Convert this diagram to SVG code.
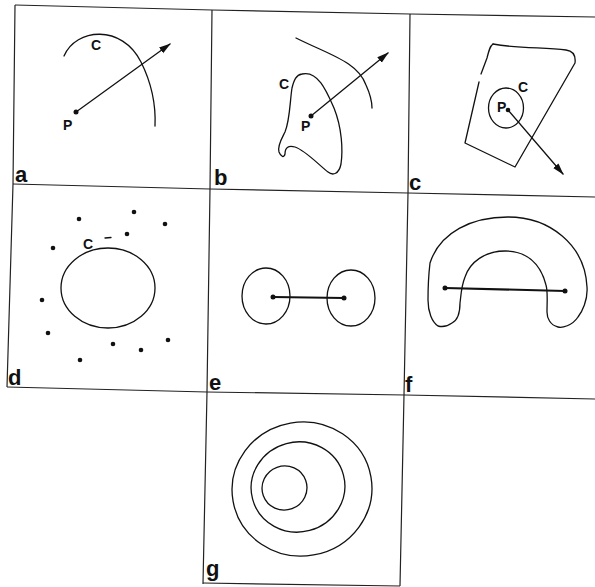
<svg xmlns="http://www.w3.org/2000/svg" width="595" height="587" viewBox="0 0 595 587">
<style>
.ln{fill:none;stroke:#111;stroke-width:1.3;stroke-linejoin:round;stroke-linecap:round}
.fr{fill:none;stroke:#222;stroke-width:1.2}
.dot{fill:#111}
.lab{font-family:"Liberation Sans",Arial,sans-serif;font-weight:bold;font-size:22px;fill:#111}
.sm{font-family:"Liberation Sans",Arial,sans-serif;font-weight:bold;font-size:14px;fill:#111}
</style>
<defs>
<marker id="ah" markerUnits="userSpaceOnUse" markerWidth="12" markerHeight="8" refX="11" refY="4" orient="auto">
<path d="M0,0.5 L12,4 L0,7.5 z" fill="#111"/>
</marker>
</defs>
<rect width="595" height="587" fill="#fff"/>
<g id="grid" class="fr">
<path d="M15,5 L212,10 L410,14 L595,17"/>
<path d="M13,184 L210,189 L408,193 L595,197"/>
<path d="M7,387 L207,392 L405,395 L595,399"/>
<path d="M15,5 L13,184 L7,387"/>
<path d="M212,10 L210,189 L207,392 L203,584"/>
<path d="M410,14 L408,193 L404,395 L400,586"/>
<path d="M203,583 L400,586"/>
</g>
<g id="panel-a">
<path class="ln" d="M64,56 C76,28 122,24 141,62 C151,82 156,104 155,126"/>
<text class="sm" x="91" y="50">C</text>
<circle class="dot" cx="76" cy="112" r="2.5"/>
<text class="sm" x="63" y="130">P</text>
<text class="lab" x="15" y="182">a</text>
</g>
<g id="panel-b">
<path class="ln" d="M296,38 C330,55 358,62 366,85 C371,96 372,102 372,108"/>
<path class="ln" d="M302,74 C318,70 327,92 334,108 C342,128 343,150 341,164 C339,174 333,176 328,172 C320,166 305,150 295,147 C288,145 285,148 285,154 C284,158 281,157 279,152 C277,146 282,138 285,132 C290,120 290,100 292,88 C294,80 296,75 302,74 Z"/>
<text class="sm" x="279" y="89">C</text>
<circle class="dot" cx="311" cy="116" r="2.5"/>
<text class="sm" x="301" y="131">P</text>
<text class="lab" x="214" y="185">b</text>
</g>
<g id="panel-c">
<path class="ln" d="M493,44 C520,49 545,47 566,50 C573,51 576,55 575,63 L515,167 L465,143 L479,82"/>
<path class="ln" d="M481,74 L487,58 C489,50 490,46 493,44"/>
<ellipse class="ln" cx="506" cy="108" rx="17.5" ry="20"/>
<text class="sm" x="518" y="92">C</text>
<text class="sm" x="497" y="112">P</text>
<circle class="dot" cx="508" cy="110" r="2.3"/>
<text class="lab" x="409" y="190">c</text>
</g>
<g id="panel-d">
<ellipse class="ln" cx="108" cy="288" rx="47" ry="40"/>
<text class="sm" x="83" y="249">C</text>
<path class="ln" d="M105,238 L111,237.5" stroke-width="2"/>
<circle class="dot" cx="79" cy="219" r="2.3"/>
<circle class="dot" cx="134" cy="212" r="2.3"/>
<circle class="dot" cx="165" cy="224" r="2.3"/>
<circle class="dot" cx="127" cy="234" r="2.3"/>
<circle class="dot" cx="53" cy="248" r="2.3"/>
<circle class="dot" cx="42" cy="300" r="2.3"/>
<circle class="dot" cx="48" cy="333" r="2.3"/>
<circle class="dot" cx="113" cy="344" r="2.3"/>
<circle class="dot" cx="141" cy="350" r="2.3"/>
<circle class="dot" cx="168" cy="340" r="2.3"/>
<circle class="dot" cx="80" cy="360" r="2.3"/>
<text class="lab" x="8" y="385">d</text>
</g>
<g id="panel-e">
<ellipse class="ln" cx="266" cy="296" rx="24" ry="28"/>
<ellipse class="ln" cx="351" cy="298" rx="24" ry="28"/>
<circle class="dot" cx="273" cy="297" r="2.5"/>
<circle class="dot" cx="344" cy="298" r="2.5"/>
<text class="lab" x="209" y="390">e</text>
</g>
<g id="panel-f">
<path class="ln" d="M438,326 C432,322 428,312 428,300 C428,290 428,280 430,263 C440,232 472,217 508,217 C550,217 585,245 587,287 C588,300 582,312 578,317 C572,326 562,328 558,327 C550,325 547,318 547,312 C547,300 548,292 546,285 C540,262 525,251 505,251 C485,251 470,262 465,277 C461,287 461,296 460,303 C460,312 458,320 452,323 C448,326 442,327 438,326 Z"/>
<circle class="dot" cx="445" cy="288" r="2.5"/>
<circle class="dot" cx="565" cy="291" r="2.5"/>
<text class="lab" x="405" y="392">f</text>
</g>
<g id="panel-g">
<ellipse class="ln" cx="302" cy="489" rx="70" ry="67" transform="rotate(-10 302 489)"/>
<ellipse class="ln" cx="298" cy="487" rx="47" ry="45" transform="rotate(-15 298 487)"/>
<ellipse class="ln" cx="284.5" cy="488" rx="22.5" ry="22" transform="rotate(-20 284.5 488)"/>
<text class="lab" x="206" y="576">g</text>
</g>
<g id="connectors" class="ln">
<path d="M76,112 L170,44" marker-end="url(#ah)"/>
<path d="M311,116 L388,53" marker-end="url(#ah)"/>
<path d="M508,110 L563,174" marker-end="url(#ah)"/>
<path d="M273,297 L344,298" stroke-width="2"/>
<path d="M445,288 L565,291" stroke-width="2"/>
</g>
</svg>
